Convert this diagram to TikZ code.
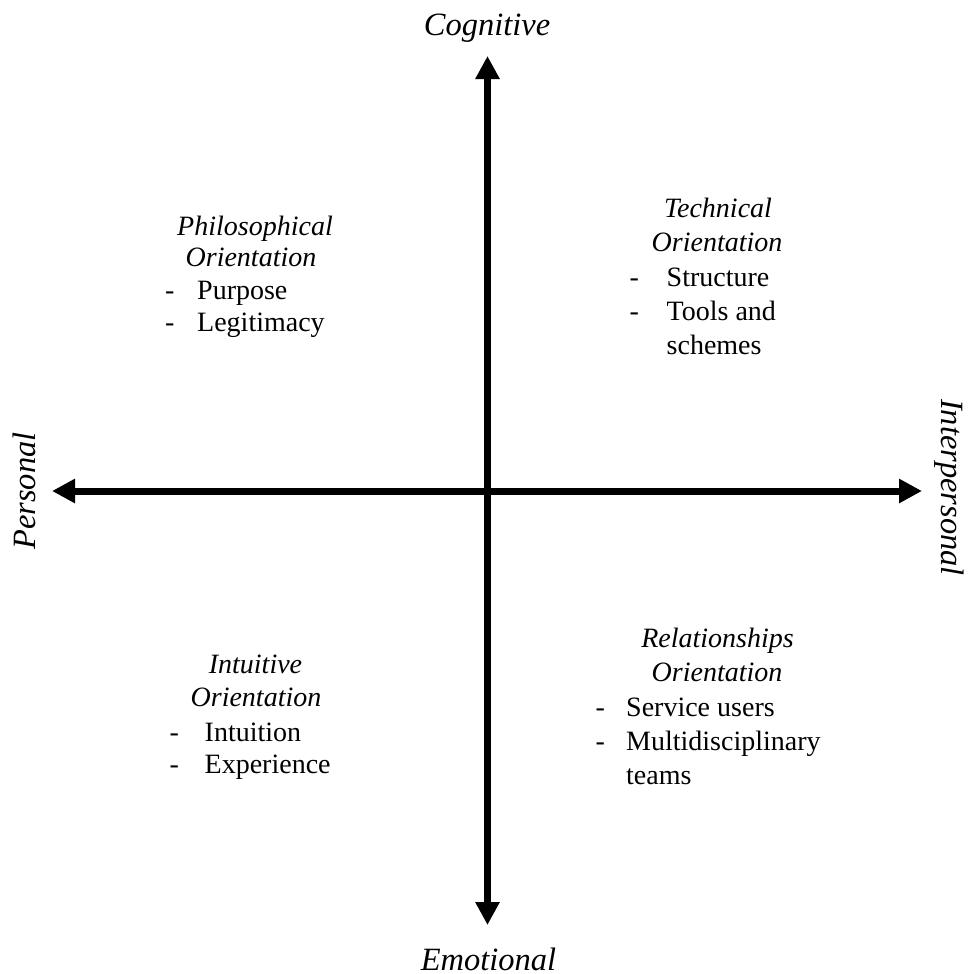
\documentclass[tikz,border=0pt]{standalone}
\usepackage{fontspec}
\setmainfont{Liberation Serif}
\usetikzlibrary{arrows.meta}
\begin{document}
\begin{tikzpicture}[x=1pt,y=-1pt,
  axis/.style={line width=7pt,{Triangle[length=23pt,width=23pt]}-{Triangle[length=23pt,width=23pt]}},
  axislabel/.style={font=\fontsize{32.5}{38}\selectfont\itshape,inner sep=0pt,anchor=base},
  qtitle/.style={font=\fontsize{28}{33}\selectfont\itshape,inner sep=0pt,anchor=base},
  qitem/.style={font=\fontsize{28}{33}\selectfont,inner sep=0pt,anchor=base west}]
\useasboundingbox (0,0) rectangle (968,974);
% axes
\coordinate (top) at (487.5,56);
\coordinate (bottom) at (487.5,925);
\coordinate (left) at (52,491);
\coordinate (right) at (922,491);
\draw[axis] (bottom) -- (top);
\draw[axis] (left) -- (right);
% axis labels
\node[axislabel] (cog) at (487,36) {Cognitive};
\node[axislabel] (emo) at (488.5,970) {Emotional};
\node[axislabel,rotate=90] (pers) at (35,491) {Personal};
\node[axislabel,rotate=-90] (inter) at (941.5,487.5) {Interpersonal};
% Philosophical
\node[qtitle] (ph1) at (255,235) {Philosophical};
\node[qtitle] (ph2) at (251,266) {Orientation};
\node[qitem] (phd1) at (165,299) {-};
\node[qitem] (phi1) at (197,299) {Purpose};
\node[qitem] (phd2) at (165,331.5) {-};
\node[qitem] (phi2) at (197,331.5) {Legitimacy};
% Technical
\node[qtitle] (te1) at (718,217) {Technical};
\node[qtitle] (te2) at (717,251.7) {Orientation};
\node[qitem] (ted1) at (629.5,286) {-};
\node[qitem] (tei1) at (666.5,286) {Structure};
\node[qitem] (ted2) at (629.5,320) {-};
\node[qitem] (tei2) at (666.5,320) {Tools and};
\node[qitem] (tei3) at (666.5,354) {schemes};
% Intuitive
\node[qtitle] (in1) at (255.5,673) {Intuitive};
\node[qtitle] (in2) at (256,706.7) {Orientation};
\node[qitem] (ind1) at (169.5,741) {-};
\node[qitem] (ini1) at (204.5,741) {Intuition};
\node[qitem] (ind2) at (169.5,773) {-};
\node[qitem] (ini2) at (204.5,773) {Experience};
% Relationships
\node[qtitle] (re1) at (717.5,647) {Relationships};
\node[qtitle] (re2) at (717,681.7) {Orientation};
\node[qitem] (red1) at (595.5,716) {-};
\node[qitem] (rei1) at (626,716) {Service users};
\node[qitem] (red2) at (595.5,750) {-};
\node[qitem] (rei2) at (626,750) {Multidisciplinary};
\node[qitem] (rei3) at (626,784) {teams};
\end{tikzpicture}
\end{document}
